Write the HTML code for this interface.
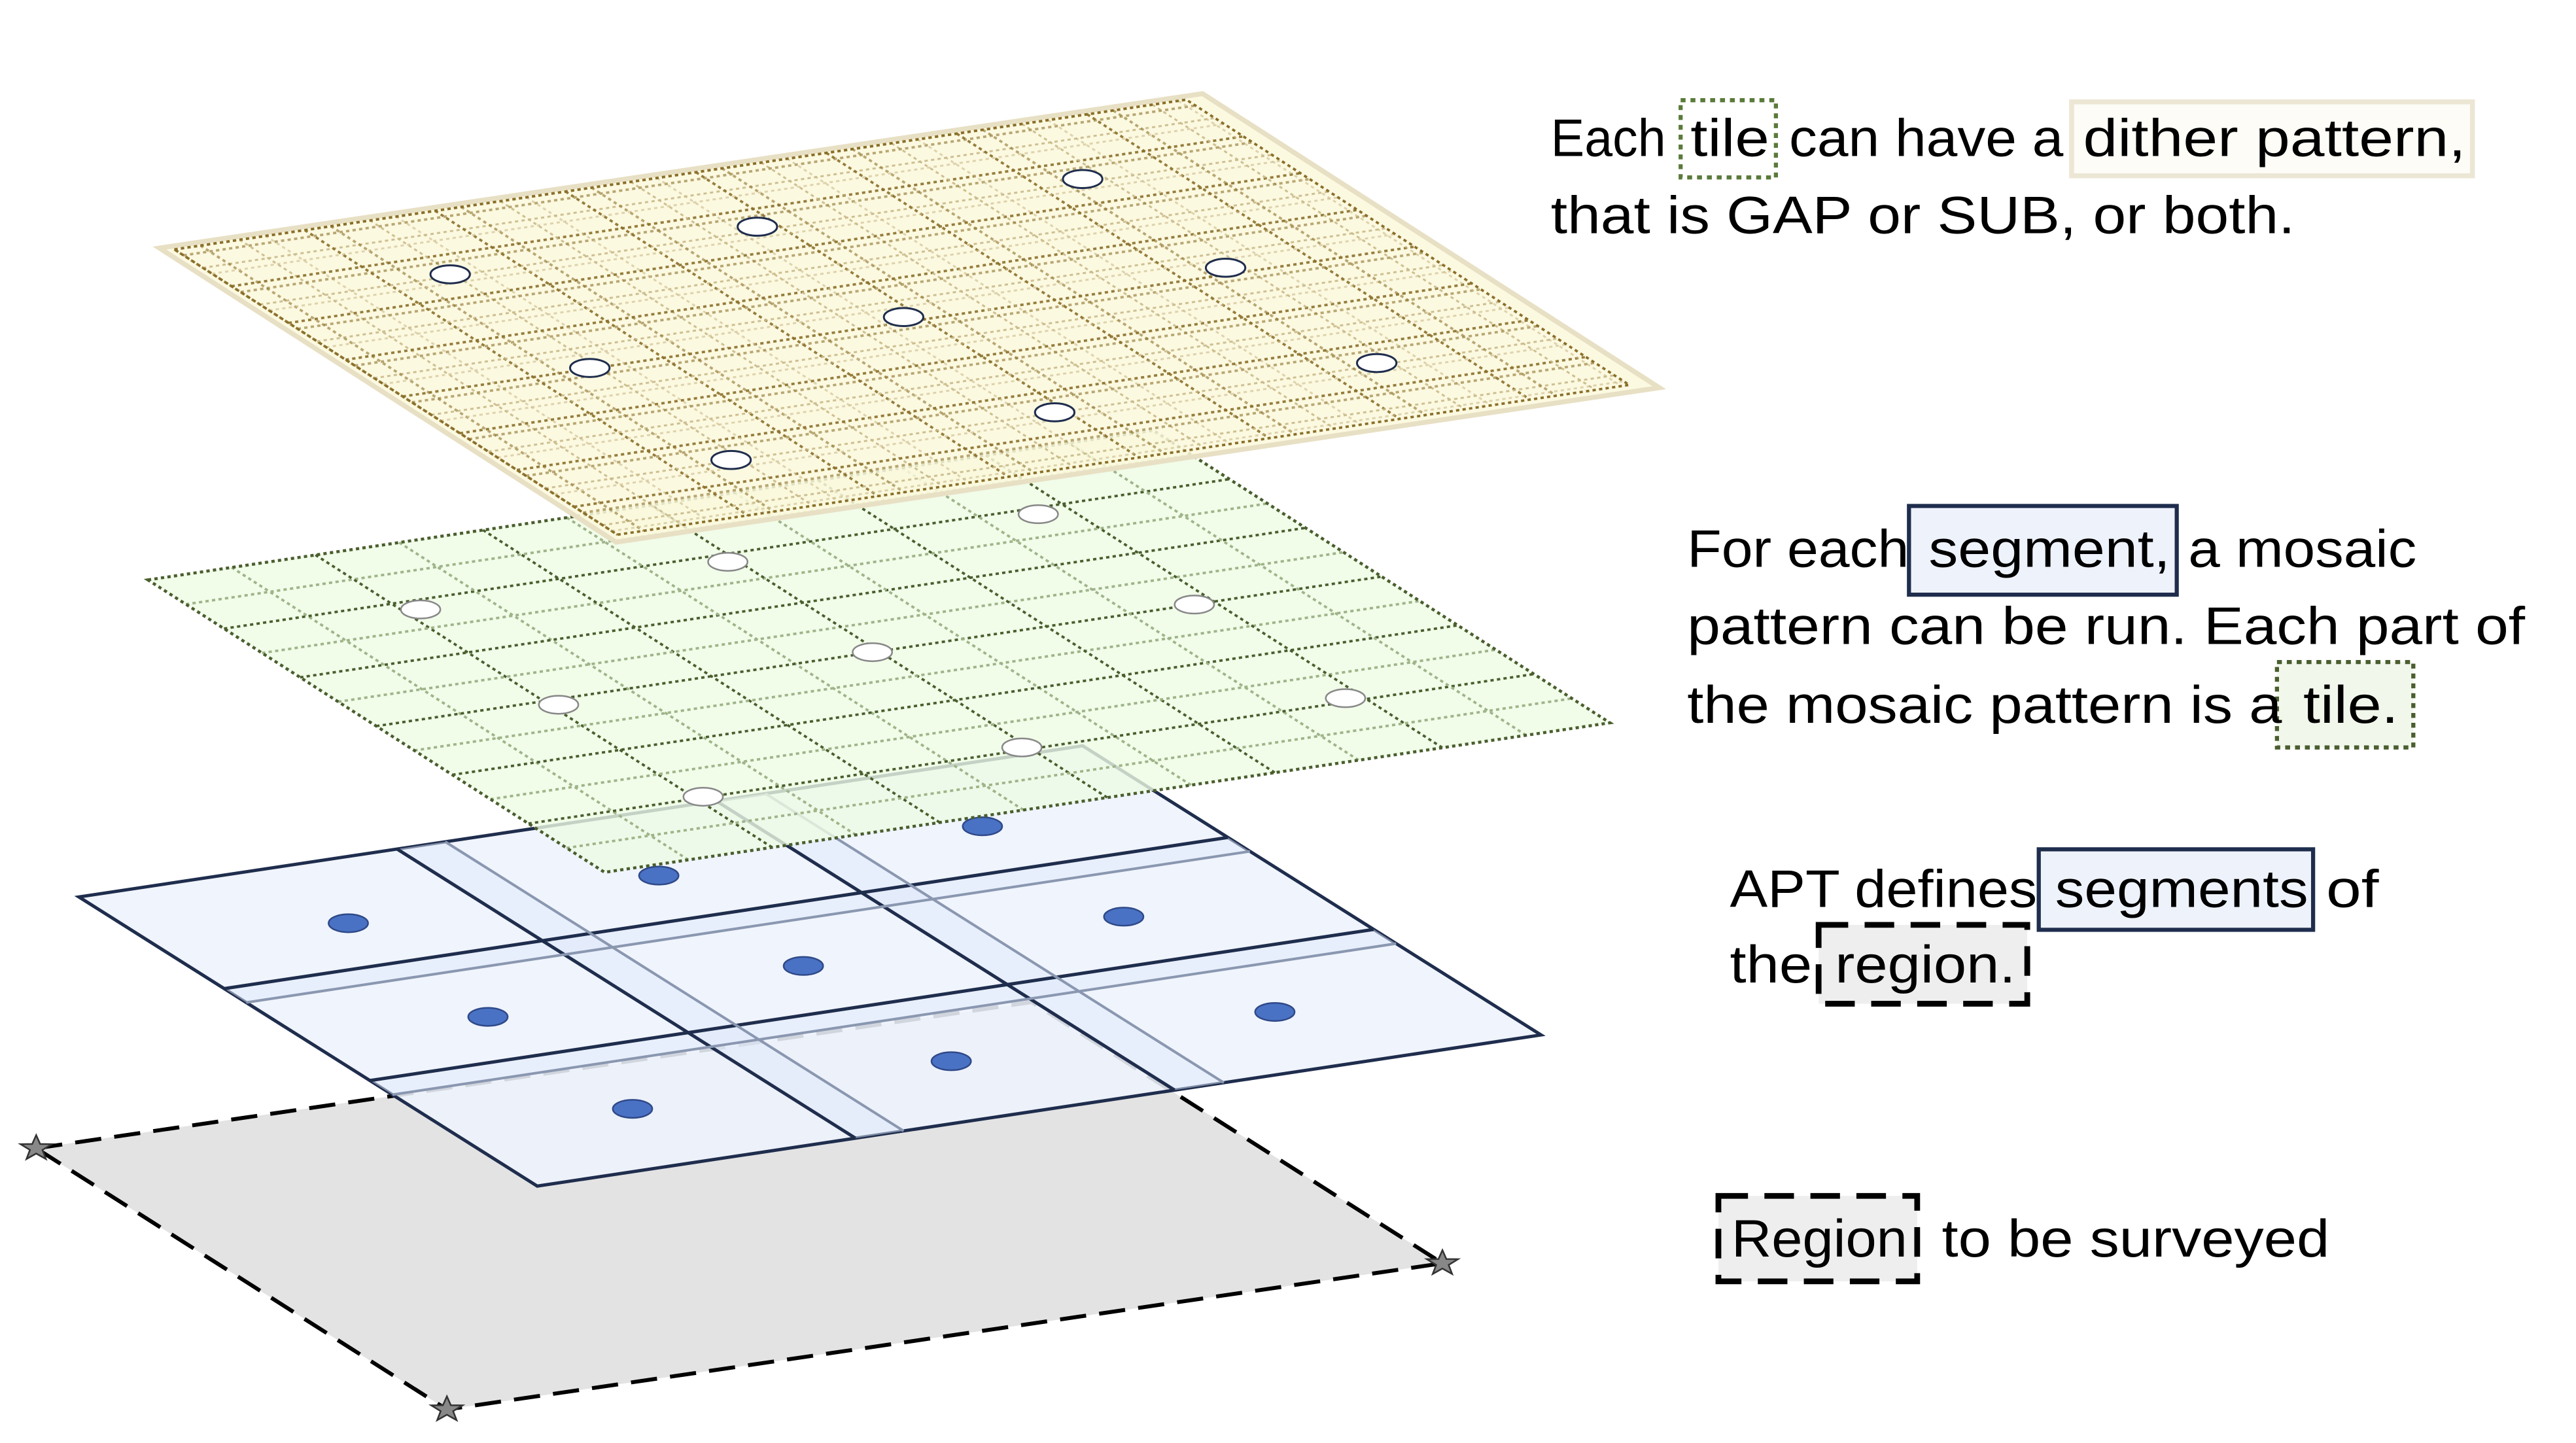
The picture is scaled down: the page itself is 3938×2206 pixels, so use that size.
<!DOCTYPE html>
<html><head><meta charset="utf-8"><style>
html,body{margin:0;padding:0;background:#fff;}
svg{display:block;}
text{font-family:"Liberation Sans",sans-serif;font-size:32px;fill:#000;}
</style></head><body>
<svg id="s" width="3938" height="2206" viewBox="0 0 1568 878.4" xmlns="http://www.w3.org/2000/svg">
<polygon points="22,699 628,610 878,769 272,858" fill="#e3e3e3" stroke="#000" stroke-width="2.4" stroke-dasharray="16,8"/>
<g id="stars"></g>
<g id="seg"></g>
<g id="green"></g>
<g id="tan"></g>

<rect x="1023" y="61" width="58" height="47" fill="none" stroke="#5a7a3a" stroke-width="2.5" stroke-dasharray="3,3"/>
<rect x="1261" y="62" width="244" height="45" fill="#fdfcf6" stroke="#ece6d4" stroke-width="3"/>
<text x="944" y="95" textLength="70" lengthAdjust="spacingAndGlyphs">Each</text>
<text x="1029" y="95" textLength="48" lengthAdjust="spacingAndGlyphs">tile</text>
<text x="1089" y="95" textLength="167" lengthAdjust="spacingAndGlyphs">can have a</text>
<text x="1268" y="95" textLength="233" lengthAdjust="spacingAndGlyphs">dither pattern,</text>
<text x="944" y="142" textLength="453" lengthAdjust="spacingAndGlyphs">that is GAP or SUB, or both.</text>

<rect x="1162" y="308" width="163" height="54" fill="#eef2fa" stroke="#1f2d4d" stroke-width="2.5"/>
<rect x="1386" y="403" width="83" height="52" fill="#f2f7ec" stroke="#4a5e2e" stroke-width="2.5" stroke-dasharray="3,3"/>
<text x="1027" y="345" textLength="135" lengthAdjust="spacingAndGlyphs">For each</text>
<text x="1174" y="345" textLength="147" lengthAdjust="spacingAndGlyphs">segment,</text>
<text x="1332" y="345" textLength="139" lengthAdjust="spacingAndGlyphs">a mosaic</text>
<text x="1027" y="392" textLength="510" lengthAdjust="spacingAndGlyphs">pattern can be run. Each part of</text>
<text x="1027" y="440" textLength="362" lengthAdjust="spacingAndGlyphs">the mosaic pattern is a</text>
<text x="1402" y="440" textLength="58" lengthAdjust="spacingAndGlyphs">tile.</text>

<rect x="1241" y="517" width="167" height="49" fill="#eef2fa" stroke="#1f2d4d" stroke-width="2.5"/>
<rect x="1107" y="563" width="127" height="48" fill="#eeeeee" stroke="#000" stroke-width="3.5" stroke-dasharray="18,10"/>
<text x="1053" y="552" textLength="187" lengthAdjust="spacingAndGlyphs">APT defines</text>
<text x="1251" y="552" textLength="154" lengthAdjust="spacingAndGlyphs">segments</text>
<text x="1416" y="552" textLength="32" lengthAdjust="spacingAndGlyphs">of</text>
<text x="1053" y="598" textLength="50" lengthAdjust="spacingAndGlyphs">the</text>
<text x="1117" y="598" textLength="110" lengthAdjust="spacingAndGlyphs">region.</text>

<rect x="1046" y="728" width="121" height="52" fill="#eeeeee" stroke="#000" stroke-width="3.5" stroke-dasharray="18,10"/>
<text x="1054" y="765" textLength="107" lengthAdjust="spacingAndGlyphs">Region</text>
<text x="1182" y="765" textLength="236" lengthAdjust="spacingAndGlyphs">to be surveyed</text>
</svg>
<script>
var NS="http://www.w3.org/2000/svg";
function el(p,t,a){var e=document.createElementNS(NS,t);for(var k in a)e.setAttribute(k,a[k]);p.appendChild(e);return e;}
function P(A,B,D,u,v){return [A[0]+u*(B[0]-A[0])+v*(D[0]-A[0]),A[1]+u*(B[1]-A[1])+v*(D[1]-A[1])];}
function line(g,A,B,D,u1,v1,u2,v2,a){var p=P(A,B,D,u1,v1),q=P(A,B,D,u2,v2);a.x1=p[0];a.y1=p[1];a.x2=q[0];a.y2=q[1];el(g,"line",a);}
function poly(pts){return pts.map(function(p){return p.join(",")}).join(" ");}
var sg=document.getElementById("stars");
[[22,699],[878,769],[272,858]].forEach(function(c){var pts=[];for(var i=0;i<10;i++){var r=i%2?4:10,a=-Math.PI/2+i*Math.PI/5;pts.push((c[0]+r*Math.cos(a)).toFixed(1)+","+(c[1]+r*Math.sin(a)*0.8).toFixed(1));}
el(sg,"polygon",{points:pts.join(" "),fill:"#888",stroke:"#333","stroke-width":1});});
var g=document.getElementById("seg");
var A=[48,546],B=[659,454],D=[327,722];
var q=[A,B,P(A,B,D,1,1),D];
el(g,"polygon",{points:poly(q),fill:"#eef3fc","fill-opacity":0.88,stroke:"#1f2d4d","stroke-width":2});
[[0.317,0.365],[0.635,0.684]].forEach(function(b){
 el(g,"polygon",{points:poly([P(A,B,D,b[0],0),P(A,B,D,b[1],0),P(A,B,D,b[1],1),P(A,B,D,b[0],1)]),fill:"#dfe9fb","fill-opacity":0.5});
 el(g,"polygon",{points:poly([P(A,B,D,0,b[0]),P(A,B,D,1,b[0]),P(A,B,D,1,b[1]),P(A,B,D,0,b[1])]),fill:"#dfe9fb","fill-opacity":0.5});
});
[0.317,0.635].forEach(function(t){line(g,A,B,D,t,0,t,1,{stroke:"#1f2d4d","stroke-width":2});line(g,A,B,D,0,t,1,t,{stroke:"#1f2d4d","stroke-width":2});});
[0.365,0.684].forEach(function(t){line(g,A,B,D,t,0,t,1,{stroke:"#8a97b0","stroke-width":1.6});line(g,A,B,D,0,t,1,t,{stroke:"#8a97b0","stroke-width":1.6});});
[[212,562],[401,533],[598,503],[297,619],[489,588],[684,558],[385,675],[579,646],[776,616]].forEach(function(c){el(g,"ellipse",{cx:c[0],cy:c[1],rx:12,ry:5.5,fill:"#4a72c4",stroke:"#2f4a8a","stroke-width":1});});
g=document.getElementById("green");
A=[90,353];B=[702,262];D=[368,531];
q=[A,B,P(A,B,D,1,1),D];
el(g,"polygon",{points:poly(q),fill:"#eefbe3","fill-opacity":0.8});
var N=12;
for(var i=1;i<N;i++){var t=i/N;var dark=(i%2==0);
 var a={stroke:dark?"#4a5e2e":"#9fb489","stroke-width":1.5,"stroke-dasharray":"2,2"};
 line(g,A,B,D,t,0,t,1,a);line(g,A,B,D,0,t,1,t,Object.assign({},a));}
el(g,"polygon",{points:poly(q),fill:"none",stroke:"#4a5e2e","stroke-width":1.8,"stroke-dasharray":"2,2"});
[[256,371],[443,342],[632,313],[340,429],[531,397],[727,368],[428,485],[622,455],[819,425]].forEach(function(c){el(g,"ellipse",{cx:c[0],cy:c[1],rx:12,ry:5.5,fill:"#fff",stroke:"#888","stroke-width":1});});
g=document.getElementById("tan");
A=[97,151];B=[732,57];D=[375,330];
q=[A,B,P(A,B,D,1,1),D];
el(g,"polygon",{points:poly(q),fill:"#fcf8dc","fill-opacity":0.85,stroke:"#e8e0c4","stroke-width":3});
[[0.01,0.01],[0.035,0.03]].forEach(function(o,k){
 for(var i=0;i<16;i++){var t=i/16+o[0];var t2=i/16+o[1];var dark=(i%2==0);
  var a={stroke:dark?"#8a6f2a":"#c9b98a","stroke-width":dark?1.5:1.2,"stroke-dasharray":"2,2","stroke-opacity":k?0.6:0.9};
  line(g,A,B,D,t,0.01,t,0.98,a);line(g,A,B,D,0.01,t2,0.98,t2,Object.assign({},a));}
});
el(g,"polygon",{points:poly([P(A,B,D,0.01,0.01),P(A,B,D,0.98,0.01),P(A,B,D,0.98,0.98),P(A,B,D,0.01,0.98)]),fill:"none",stroke:"#8a6f2a","stroke-width":1.5,"stroke-dasharray":"2,2"});
[[274,167],[461,138],[659,109],[359,224],[550,193],[746,163],[445,280],[642,251],[838,221]].forEach(function(c){el(g,"ellipse",{cx:c[0],cy:c[1],rx:12,ry:5.5,fill:"#fff",stroke:"#1f2d4d","stroke-width":1.2});});
</script>
</body></html>
